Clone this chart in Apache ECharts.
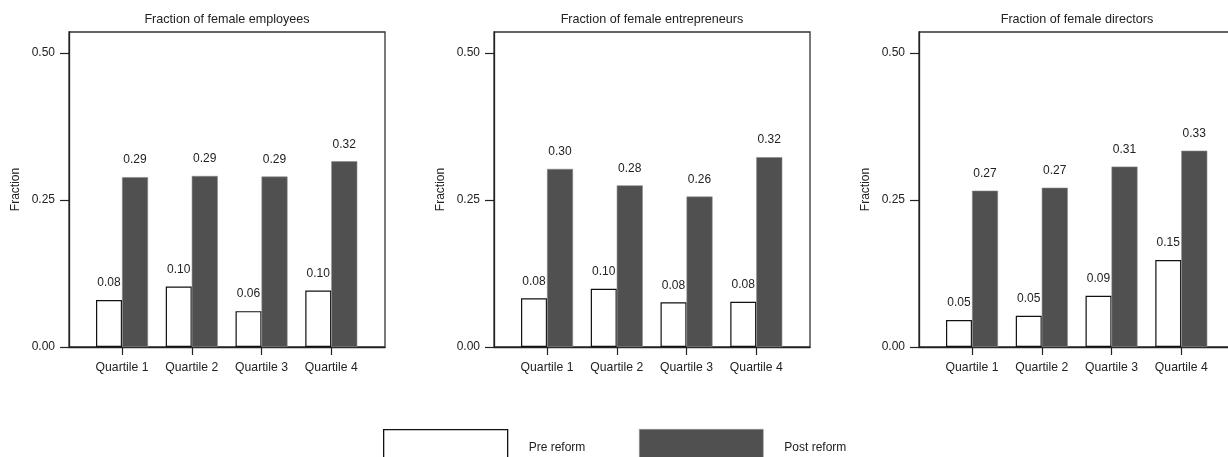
<!DOCTYPE html>
<html><head><meta charset="utf-8">
<script src="https://cdn.jsdelivr.net/npm/echarts@6.0.0/dist/echarts.min.js"></script>
<style>html,body{margin:0;padding:0;background:#fff}#c{width:1228px;height:457px}</style>
</head><body><div id="c"></div>
<script>
const categories = ['Quartile 1', 'Quartile 2', 'Quartile 3', 'Quartile 4'];
const panelTitles = ['Fraction of female employees', 'Fraction of female entrepreneurs', 'Fraction of female directors'];
const seriesNames = ['Pre reform', 'Post reform'];
const preEmployees = [0.080, 0.103, 0.061, 0.096];
const postEmployees = [0.289, 0.291, 0.290, 0.316];
const preEntrepreneurs = [0.083, 0.099, 0.076, 0.077];
const postEntrepreneurs = [0.303, 0.275, 0.256, 0.323];
const preDirectors = [0.046, 0.053, 0.087, 0.148];
const postDirectors = [0.266, 0.271, 0.307, 0.334];
const yTicks = [0, 0.25, 0.5];
const xTicks = [1, 2, 3, 4];

const panels = [
  [preEmployees, postEmployees],
  [preEntrepreneurs, postEntrepreneurs],
  [preDirectors, postDirectors]
];

const FONT = 'Liberation Sans, Arial, Helvetica, sans-serif';
const TXT = '#222';
const DARK = '#505050';
const GRID_LEFT0 = 69, GRID_STEP = 425, GRID_W = 316, GRID_TOP = 32, GRID_H = 315;

const grid = [], xAxis = [], yAxis = [], series = [], title = [];
panels.forEach((vals, i) => {
  const left = GRID_LEFT0 + GRID_STEP * i;
  grid.push({
    left: left, top: GRID_TOP, width: GRID_W, height: GRID_H,
    show: true, borderColor: '#333', borderWidth: 1.3, backgroundColor: 'transparent',
    outerBoundsMode: 'none', containLabel: false
  });
  title.push({
    text: panelTitles[i], left: left + GRID_W / 2, top: 13, textAlign: 'center', padding: 0,
    textStyle: { fontFamily: FONT, fontSize: 12.6, fontWeight: 'normal', color: TXT }
  });
  xAxis.push({
    type: 'value', gridIndex: i, min: 0.24, max: 4.77,
    splitLine: { show: false },
    axisLine: { show: true, onZero: false, lineStyle: { color: '#222', width: 1.3 } },
    axisTick: { show: true, customValues: xTicks, length: 8, lineStyle: { color: '#222', width: 1.2 } },
    axisLabel: {
      customValues: xTicks, margin: 15, fontFamily: FONT, fontSize: 12.2, color: TXT,
      formatter: v => categories[Math.round(v) - 1]
    }
  });
  yAxis.push({
    type: 'value', gridIndex: i, min: 0, max: 0.536, interval: 0.25,
    splitLine: { show: false },
    name: 'Fraction', nameLocation: 'middle', nameGap: 47, nameRotate: 90,
    nameTextStyle: { fontFamily: FONT, fontSize: 12, color: TXT },
    axisLine: { show: true, lineStyle: { color: '#222', width: 1.3 } },
    axisTick: { show: true, customValues: yTicks, length: 9, lineStyle: { color: '#222', width: 1.2 } },
    axisLabel: {
      customValues: yTicks, margin: 14, fontFamily: FONT, fontSize: 12, color: TXT,
      formatter: v => v.toFixed(2)
    }
  });
  const lbl = {
    show: true, position: 'top', distance: 11, fontFamily: FONT, fontSize: 12, color: TXT,
    formatter: p => p.value[1].toFixed(2)
  };
  series.push({
    type: 'bar', name: seriesNames[0], xAxisIndex: i, yAxisIndex: i,
    barWidth: 26, barGap: '0%',
    data: vals[0].map((v, k) => [xTicks[k], v]),
    itemStyle: { color: '#fff', borderColor: '#111', borderWidth: 1.2 },
    label: lbl
  });
  series.push({
    type: 'bar', name: seriesNames[1], xAxisIndex: i, yAxisIndex: i,
    barWidth: 26, barGap: '0%',
    data: vals[1].map((v, k) => [xTicks[k], v]),
    itemStyle: { color: DARK, borderColor: '#888', borderWidth: 0.6 },
    label: lbl
  });
});

const legendBase = {
  top: 429, itemWidth: 124, itemHeight: 36, icon: 'rect', padding: 0, selectedMode: false,
  textStyle: { fontFamily: FONT, fontSize: 12, color: TXT, padding: [0, 0, 0, 16] }
};
const legend = [
  Object.assign({}, legendBase, { left: 383, data: [seriesNames[0]],
    itemStyle: { color: '#fff', borderColor: '#111', borderWidth: 1.3 } }),
  Object.assign({}, legendBase, { left: 639, data: [seriesNames[1]],
    itemStyle: { color: DARK, borderColor: '#999', borderWidth: 0.6 } })
];

const chart = echarts.init(document.getElementById('c'), null, { renderer: 'canvas' });
chart.setOption({
  animation: false,
  backgroundColor: '#fff',
  title, grid, xAxis, yAxis, series, legend
});
</script>
</body></html>
